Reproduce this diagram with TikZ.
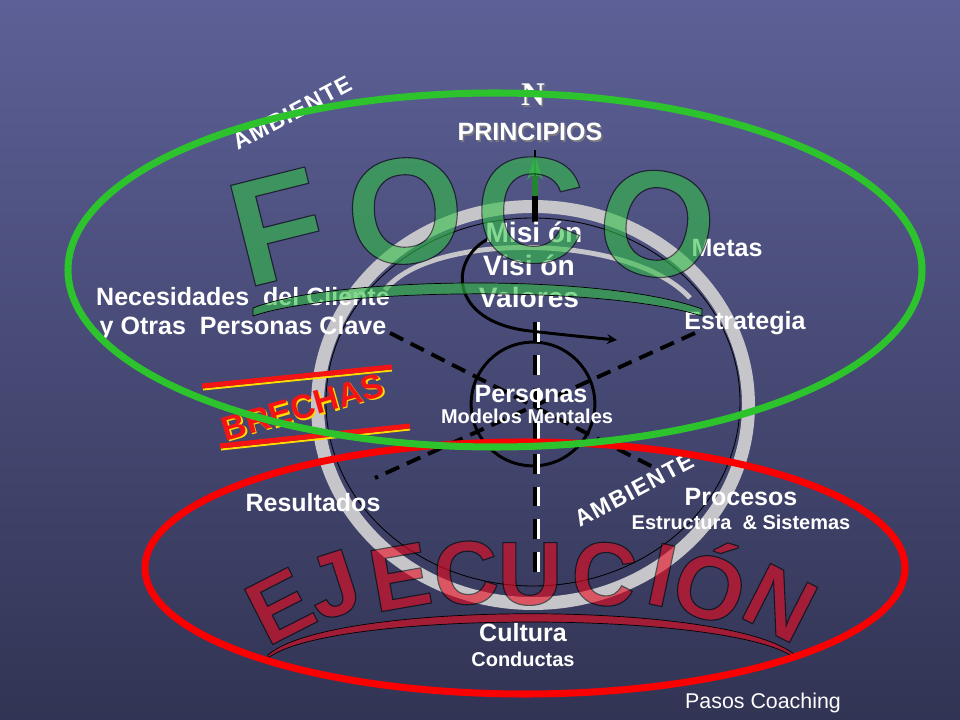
\documentclass[tikz,border=0pt]{standalone}
\usepackage{fontspec}
\setmainfont{Liberation Sans}
\newfontfamily\serifN{Liberation Serif}
\usetikzlibrary{positioning}

\definecolor{bgTop}{RGB}{92,96,150}
\definecolor{bgBottom}{RGB}{50,52,84}
\definecolor{ringGray}{RGB}{198,198,202}
\definecolor{focoGreen}{RGB}{50,190,70}
\definecolor{ejecRed}{RGB}{235,10,30}
\definecolor{ellGreen}{RGB}{45,195,45}
\definecolor{ellRed}{RGB}{250,0,0}
\definecolor{brechaRed}{RGB}{245,20,20}
\definecolor{brechaYellow}{RGB}{255,220,0}
\definecolor{shadowGray}{RGB}{120,120,130}

% filled letters with a thin black rim
\newcommand{\wordArt}[1]{\special{pdf:literal direct 2 Tr 0.8 w 0 0 0 RG}#1\special{pdf:literal direct 0 Tr}}

\tikzset{
  lbl/.style={text=white, inner sep=0pt, font=\bfseries\fontsize{17.8}{20}\selectfont},
  sublbl/.style={text=white, inner sep=0pt, font=\bfseries\fontsize{14.2}{16}\selectfont},
  bigLbl/.style={text=white, inner sep=0pt, font=\bfseries\fontsize{20}{22}\selectfont},
  ambLbl/.style={text=white, inner sep=0pt, font=\bfseries\fontsize{16.5}{18}\selectfont\addfontfeature{LetterSpace=6}},
  focoLetter/.style={inner sep=0pt, text=focoGreen, font=\bfseries\fontsize{107}{107}\selectfont},
  ejecLetter/.style={inner sep=0pt, text=ejecRed, font=\bfseries\fontsize{64}{64}\selectfont},
  spoke/.style={black, line width=2.8pt, dash pattern=on 10.5pt off 6pt},
  axisDash/.style={dash pattern=on 14.2pt off 9.2pt},
}

\begin{document}
\begin{tikzpicture}[x=0.025cm, y=-0.025cm]
\useasboundingbox (0,0) rectangle (960,720);
\shade[top color=bgTop, bottom color=bgBottom] (0,0) rectangle (960,720);

% gray ring
\draw[ringGray, line width=9.2pt] (533,405) ellipse [x radius=215.5, y radius=198.5];
\draw[black, line width=0.6pt] (533,402) ellipse [x radius=207, y radius=184];
\draw[ringGray, line width=3.5pt] (385,290) .. controls (430,232) and (630,232) .. (690,298);

% spokes and inner circle
\coordinate (hub) at (533,404);
\coordinate (spokeNW) at (390,333);
\coordinate (spokeSE) at (655,468);
\coordinate (spokeNE) at (695,333);
\coordinate (spokeSW) at (375,478);
\draw[spoke] (spokeNW) -- (spokeSE);
\draw[spoke] (spokeNE) -- (spokeSW);
\node[circle, draw, line width=2.1pt, minimum size=88pt, inner sep=0pt] (personasRing) at (hub) {};

% north axis
\coordinate (axisTop) at (535,322);
\coordinate (axisBottom) at (535,572);
\draw[white, line width=1.6pt, axisDash] ([xshift=2.4pt]axisTop) -- ([xshift=2.4pt]axisBottom);
\draw[black, line width=3.5pt, axisDash] (axisTop) -- (axisBottom);
\coordinate (arrowBase) at (535,222);
\coordinate (arrowNeck) at (535,176);
\coordinate (arrowTip) at (535,150);
\draw[black, line width=4.3pt] (arrowBase) -- (arrowNeck);
\draw[black, line width=1.2pt] (arrowNeck) -- (arrowTip);
\fill[focoGreen, fill opacity=0.7] (535,156) -- (543,180) -- (538,175) -- (538,196) -- (532,196) -- (532,175) -- (527,180) -- cycle;

% spiral arrow
\coordinate (spiralStart) at (490,238);
\coordinate (spiralEnd) at (617,340);
\draw[black, line width=2.1pt, -stealth] (spiralStart) .. controls (448,258) and (448,322) .. (530,331) .. controls (575,336) .. (spiralEnd);

% labels
\node[text=shadowGray, font=\serifN\bfseries\fontsize{23.5}{24}\selectfont] (northShadow) at (534.5,96.5) {N};
\node[text=white, font=\serifN\bfseries\fontsize{23.5}{24}\selectfont] (northMark) at (533,95) {N};
\node[lbl, text=shadowGray] (principiosShadow) at (531.5,133.5) {PRINCIPIOS};
\node[lbl] (principiosLbl) at (530,132) {PRINCIPIOS};
\node[ambLbl, rotate=28] (ambienteTop) at (292,113) {AMBIENTE};
\node[bigLbl] (misionLbl) at (534,232) {Misi ón};
\node[bigLbl] (visionLbl) at (529,265) {Visi ón};
\node[bigLbl] (valoresLbl) at (529,297) {Valores};
\node[lbl] (metasLbl) at (727,248) {Metas};
\node[lbl] (estrategiaLbl) at (745,323) {Estrategia};
\node[lbl] (necesidadesLbl) at (243,297) {Necesidades\ \ del Cliente};
\node[lbl] (otrasLbl) at (243,328) {y Otras\ \ Personas Clave};
\node[lbl] (personasLbl) at (531,394) {Personas};
\node[sublbl] (modelosLbl) at (527,416) {Modelos Mentales};
\node[lbl] (resultadosLbl) at (313,503) {Resultados};
\node[ambLbl, rotate=28] (ambienteLow) at (634,490) {AMBIENTE};
\node[lbl] (procesosLbl) at (741,497) {Procesos};
\node[sublbl] (estructuraLbl) at (741,522) {Estructura\ \ \& Sistemas};
\node[lbl] (culturaLbl) at (523,633) {Cultura};
\node[sublbl] (conductasLbl) at (523,659) {Conductas};
\node[text=white, inner sep=0pt, font=\fontsize{15.2}{17}\selectfont] (pasosLbl) at (763,703) {Pasos Coaching};

% FOCO, outlined and see-through
\begin{scope}[transparency group, opacity=0.6]
\foreach \ch/\px/\py/\rot [count=\k] in {F/278/227/14, O/405/211/5, C/530/210/-2, O/657/224/-11}
  \node[focoLetter, rotate=\rot] (foco\k) at (\px,\py) {\wordArt{\ch}};
\end{scope}
\draw[black, line width=0.5pt, fill=focoGreen, fill opacity=0.6] (253,308) .. controls (330,277) and (600,272) .. (702,309) -- (702,316) .. controls (600,284) and (330,289) .. (253,316) -- cycle;

% EJECUCION, outlined and see-through
\begin{scope}[transparency group, opacity=0.6]
\foreach \ch/\px/\py/\rot [count=\k] in {E/280/606/27, J/333/585/18, E/400/577/10, C/466/573/4, U/530/574/0, C/604/574/-6, I/662/575/-12, Ó/712/580/-18, N/780/603/-27}
  \node[ejecLetter, rotate=\rot] (ejec\k) at (\px,\py) {\wordArt{\ch}};
\end{scope}
\draw[black, line width=0.5pt, fill=ejecRed, fill opacity=0.6] (268,655) .. controls (330,600) and (730,600) .. (795,655) -- (795,658) .. controls (730,610) and (330,610) .. (268,658) -- cycle;

% BRECHAS
\draw[brechaYellow, line width=1.4pt] (203,389.5) -- (392,370.5);
\draw[brechaRed, line width=3.6pt] (202,386) -- (392,367);
\draw[brechaYellow, line width=1.4pt] (221,449.5) -- (410,429.5);
\draw[brechaRed, line width=3.6pt] (220,446) -- (410,426);
\node[rotate=16, inner sep=0pt, text=brechaYellow, font=\bfseries\fontsize{24}{26}\selectfont] (brechasShadow) at (304.5,408.5) {BRECHAS};
\node[rotate=16, inner sep=0pt, text=brechaRed, font=\bfseries\fontsize{24}{26}\selectfont] (brechasLbl) at (303,407) {BRECHAS};

% ellipses
\draw[ellRed, line width=5pt] (525,568) ellipse [x radius=380, y radius=126];
\draw[ellGreen, line width=5pt] (495,270) ellipse [x radius=427, y radius=177];

\end{tikzpicture}
\end{document}
